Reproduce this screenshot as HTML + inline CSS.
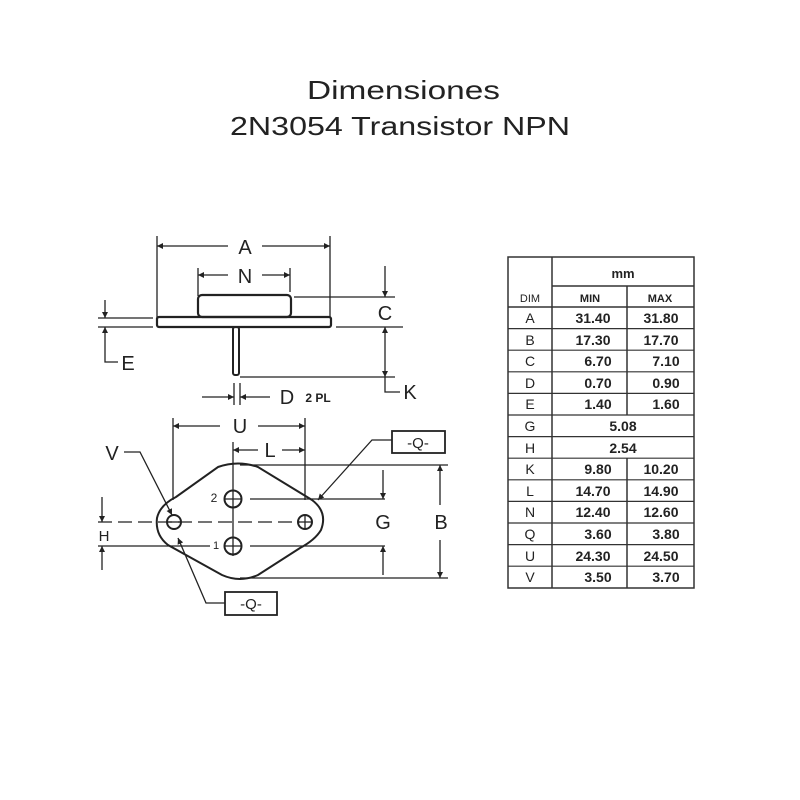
<!DOCTYPE html>
<html><head><meta charset="utf-8"><style>
html,body{margin:0;padding:0;background:#fff;width:800px;height:800px;overflow:hidden}
svg{display:block}
</style></head><body>
<svg width="800" height="800" viewBox="0 0 800 800" xmlns="http://www.w3.org/2000/svg">
<defs>
<marker id="ar" viewBox="0 0 10 10" refX="10" refY="5" markerWidth="8" markerHeight="6" orient="auto-start-reverse" markerUnits="userSpaceOnUse"><path d="M0,0 L10,5 L0,10 z" fill="#222"/></marker>
</defs>
<g font-family="Liberation Sans, sans-serif" fill="#222">
<text x="307" y="99" font-size="26" textLength="193" lengthAdjust="spacingAndGlyphs">Dimensiones</text>
<text x="230" y="135" font-size="26" textLength="340" lengthAdjust="spacingAndGlyphs">2N3054 Transistor NPN</text>
</g>

<g stroke="#222" stroke-width="1.3" fill="none">
<line x1="157" y1="236" x2="157" y2="318"/><line x1="330" y1="236" x2="330" y2="318"/>
<line x1="157" y1="246" x2="228" y2="246" marker-start="url(#ar)"/>
<line x1="262" y1="246" x2="330" y2="246" marker-end="url(#ar)"/>
<line x1="198" y1="268" x2="198" y2="296"/><line x1="290" y1="268" x2="290" y2="292"/>
<line x1="198" y1="275" x2="228" y2="275" marker-start="url(#ar)"/>
<line x1="262" y1="275" x2="290" y2="275" marker-end="url(#ar)"/>
<rect x="198" y="295" width="93" height="22" rx="4" stroke-width="2.2"/>
<rect x="157" y="317" width="174" height="10" rx="2" stroke-width="2.2"/>
<rect x="233" y="327" width="6" height="48" rx="2" stroke-width="2"/>
<line x1="294" y1="297" x2="395" y2="297"/>
<line x1="336" y1="327" x2="403" y2="327"/>
<line x1="240" y1="377" x2="395" y2="377"/>
<line x1="385" y1="266" x2="385" y2="297" marker-end="url(#ar)"/>
<line x1="385" y1="345" x2="385" y2="327" marker-end="url(#ar)"/>
<line x1="385" y1="345" x2="385" y2="377" marker-end="url(#ar)"/>
<polyline points="385,377 385,392 400,392"/>
<line x1="98" y1="318" x2="153" y2="318"/><line x1="98" y1="327" x2="153" y2="327"/>
<line x1="105" y1="300" x2="105" y2="318" marker-end="url(#ar)"/>
<line x1="105" y1="345" x2="105" y2="327" marker-end="url(#ar)"/>
<polyline points="105,345 105,362 118,362"/>
<line x1="234" y1="383" x2="234" y2="405"/><line x1="240" y1="383" x2="240" y2="405"/>
<line x1="202" y1="397" x2="234" y2="397" marker-end="url(#ar)"/>
<line x1="270" y1="397" x2="240" y2="397" marker-end="url(#ar)"/>

<line x1="173" y1="418" x2="173" y2="500"/><line x1="305" y1="418" x2="305" y2="500"/>
<line x1="173" y1="426" x2="220" y2="426" marker-start="url(#ar)"/>
<line x1="258" y1="426" x2="305" y2="426" marker-end="url(#ar)"/>
<line x1="233" y1="442" x2="233" y2="490"/>
<line x1="233" y1="450" x2="258" y2="450" marker-start="url(#ar)"/>
<line x1="282" y1="450" x2="305" y2="450" marker-end="url(#ar)"/>
<path d="M218,467 Q238,460 258,467 L312,500 Q328,512 321,530 Q315,540 300,548 L258,575 Q240,583 222,575 L168,545 Q155,535 157,518 Q160,505 176,497 Z" stroke-width="2"/>
<circle cx="233" cy="499" r="8.5" stroke-width="2"/><circle cx="233" cy="546" r="8.5" stroke-width="2"/>
<circle cx="174" cy="522" r="7" stroke-width="2"/><circle cx="305" cy="522" r="7" stroke-width="2"/>
<line x1="233" y1="490" x2="233" y2="556"/>
<line x1="224" y1="499" x2="242" y2="499"/><line x1="224" y1="546" x2="242" y2="546"/>
<line x1="168" y1="522" x2="180" y2="522"/><line x1="305" y1="516" x2="305" y2="528"/><line x1="299" y1="522" x2="311" y2="522"/>
<line x1="98" y1="522" x2="300" y2="522" stroke-dasharray="14,6"/>
<line x1="98" y1="546" x2="210" y2="546"/>
<line x1="250" y1="499" x2="385" y2="499"/><line x1="250" y1="546" x2="385" y2="546"/>
<line x1="240" y1="465" x2="448" y2="465"/><line x1="240" y1="578" x2="448" y2="578"/>
<line x1="383" y1="470" x2="383" y2="499" marker-end="url(#ar)"/>
<line x1="383" y1="575" x2="383" y2="546" marker-end="url(#ar)"/>
<line x1="440" y1="505" x2="440" y2="465" marker-end="url(#ar)"/>
<line x1="440" y1="540" x2="440" y2="578" marker-end="url(#ar)"/>
<line x1="102" y1="497" x2="102" y2="522" marker-end="url(#ar)"/>
<line x1="102" y1="570" x2="102" y2="546" marker-end="url(#ar)"/>
<polyline points="124,452 140,452 172,515" marker-end="url(#ar)"/>
<polyline points="392,440 372,440 318,500" marker-end="url(#ar)"/>
<polyline points="225,603 206,603 178,538" marker-end="url(#ar)"/>
<rect x="392" y="431" width="53" height="22" stroke-width="1.8"/>
<rect x="225" y="592" width="52" height="23" stroke-width="1.8"/>
</g>

<g font-family="Liberation Sans, sans-serif" fill="#222" text-anchor="middle" font-size="20">
<text x="245" y="254">A</text>
<text x="245" y="283">N</text>
<text x="385" y="320">C</text>
<text x="128" y="370">E</text>
<text x="410" y="399">K</text>
<text x="287" y="404">D</text>
<text x="318" y="402" font-size="12" font-weight="bold">2 PL</text>
<text x="240" y="433">U</text>
<text x="270" y="457">L</text>
<text x="112" y="460">V</text>
<text x="383" y="529">G</text>
<text x="441" y="529">B</text>
<text x="104" y="541" font-size="15">H</text>
<text x="418" y="448" font-size="15">-Q-</text>
<text x="251" y="609" font-size="15">-Q-</text>
<text x="214" y="502" font-size="12">2</text>
<text x="216" y="549" font-size="11">1</text>
</g>

<g stroke="#333" stroke-width="1.5" fill="none">
<rect x="508" y="257" width="186" height="331"/>
<line x1="552" y1="257" x2="552" y2="588"/>
<line x1="552" y1="286" x2="694" y2="286"/>
<line x1="508" y1="307" x2="694" y2="307"/>
<line x1="627" y1="286" x2="627" y2="415"/>
<line x1="627" y1="458" x2="627" y2="588"/>
</g>
<g stroke="#333" stroke-width="1.2">
<line x1="508" y1="328.6" x2="694" y2="328.6"/><line x1="508" y1="350.2" x2="694" y2="350.2"/>
<line x1="508" y1="371.8" x2="694" y2="371.8"/><line x1="508" y1="393.4" x2="694" y2="393.4"/>
<line x1="508" y1="415" x2="694" y2="415"/><line x1="508" y1="436.6" x2="694" y2="436.6"/>
<line x1="508" y1="458.2" x2="694" y2="458.2"/><line x1="508" y1="479.8" x2="694" y2="479.8"/>
<line x1="508" y1="501.4" x2="694" y2="501.4"/><line x1="508" y1="523" x2="694" y2="523"/>
<line x1="508" y1="544.6" x2="694" y2="544.6"/><line x1="508" y1="566.2" x2="694" y2="566.2"/>
</g>
<g font-family="Liberation Sans, sans-serif" fill="#222" text-anchor="middle" font-size="14" font-weight="bold">
<text x="623" y="278" font-size="13">mm</text>
<text x="530" y="302" font-size="11" font-weight="normal">DIM</text>
<text x="590" y="302" font-size="11">MIN</text>
<text x="660" y="302" font-size="11">MAX</text>
<g font-weight="normal"><text x="530" y="323">A</text><text x="530" y="345">B</text><text x="530" y="366">C</text><text x="530" y="388">D</text><text x="530" y="409">E</text><text x="530" y="431">G</text><text x="530" y="453">H</text><text x="530" y="474">K</text><text x="530" y="496">L</text><text x="530" y="517">N</text><text x="530" y="539">Q</text><text x="530" y="561">U</text><text x="530" y="582">V</text></g>
<text x="593" y="323">31.40</text><text x="661" y="323">31.80</text>
<text x="593" y="345">17.30</text><text x="661" y="345">17.70</text>
<text x="598" y="366">6.70</text><text x="666" y="366">7.10</text>
<text x="598" y="388">0.70</text><text x="666" y="388">0.90</text>
<text x="598" y="409">1.40</text><text x="666" y="409">1.60</text>
<text x="623" y="431">5.08</text>
<text x="623" y="453">2.54</text>
<text x="598" y="474">9.80</text><text x="661" y="474">10.20</text>
<text x="593" y="496">14.70</text><text x="661" y="496">14.90</text>
<text x="593" y="517">12.40</text><text x="661" y="517">12.60</text>
<text x="598" y="539">3.60</text><text x="666" y="539">3.80</text>
<text x="593" y="561">24.30</text><text x="661" y="561">24.50</text>
<text x="598" y="582">3.50</text><text x="666" y="582">3.70</text>
</g>
</svg>
</body></html>
